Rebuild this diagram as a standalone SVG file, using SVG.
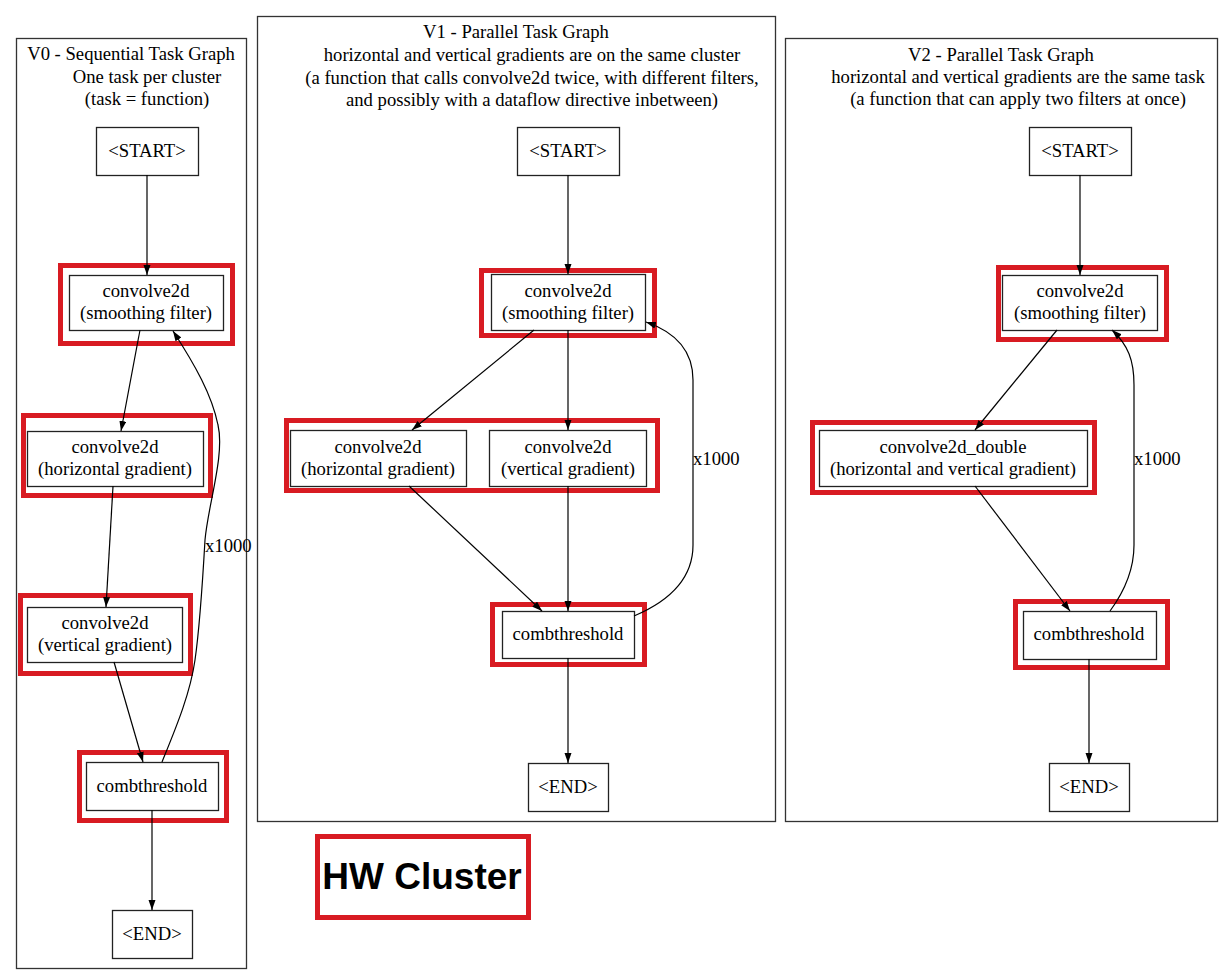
<svg xmlns="http://www.w3.org/2000/svg" width="1222" height="978" viewBox="0 0 1222 978">
<style>
text{font-family:"Liberation Serif","Times New Roman",serif;font-size:18.67px;fill:#000;text-anchor:middle}
.panel{fill:none;stroke:#333;stroke-width:1.3}
.node{fill:#fff;stroke:#222;stroke-width:1.3}
.hw{fill:none;stroke:#d81b22;stroke-width:5}
.edge{fill:none;stroke:#000;stroke-width:1.2;marker-end:url(#arr)}
.lbl{text-anchor:start}
.big{font-family:"Liberation Sans",Arial,sans-serif;font-weight:bold;font-size:37px}
</style>
<defs>
<marker id="arr" markerUnits="userSpaceOnUse" markerWidth="10" markerHeight="8" refX="10" refY="3.5" orient="auto">
<path d="M0,0 L10,3.5 L0,7 z" fill="#000"/>
</marker>
</defs>
<rect width="1222" height="978" fill="#fff"/>

<g id="panel-v0">
<rect class="panel" x="16.5" y="38.5" width="230" height="930"/>
<text x="131" y="60">V0 - Sequential Task Graph</text>
<text x="147" y="83">One task per cluster</text>
<text x="147" y="105">(task = function)</text>
</g>
<g id="panel-v1">
<rect class="panel" x="257.5" y="16.5" width="518" height="805"/>
<text x="516" y="38">V1 - Parallel Task Graph</text>
<text x="532" y="61">horizontal and vertical gradients are on the same cluster</text>
<text x="532" y="84">(a function that calls convolve2d twice, with different filters,</text>
<text x="532" y="106">and possibly with a dataflow directive inbetween)</text>
</g>
<g id="panel-v2">
<rect class="panel" x="785.5" y="38.5" width="432" height="783"/>
<text x="1001" y="61">V2 - Parallel Task Graph</text>
<text x="1018" y="83">horizontal and vertical gradients are the same task</text>
<text x="1018" y="105">(a function that can apply two filters at once)</text>
</g>

<g id="hw-clusters">
<rect class="hw" x="60.5" y="265.5" width="172" height="78"/>
<rect class="hw" x="23.5" y="415.5" width="187" height="80"/>
<rect class="hw" x="20.5" y="595.5" width="170" height="78"/>
<rect class="hw" x="79.5" y="752.5" width="147" height="68"/>
<rect class="hw" x="481.5" y="270.5" width="173" height="65"/>
<rect class="hw" x="286.5" y="420.5" width="371" height="70"/>
<rect class="hw" x="492.5" y="604.5" width="152" height="60"/>
<rect class="hw" x="998.5" y="267.5" width="168" height="72"/>
<rect class="hw" x="812.5" y="422.5" width="282" height="70"/>
<rect class="hw" x="1015.5" y="601.5" width="152" height="66"/>
</g>

<g id="v0-start"><rect class="node" x="96.5" y="127.5" width="102" height="48"/><text x="147" y="157">&lt;START&gt;</text></g>
<g id="v0-smooth"><rect class="node" x="69.5" y="275.5" width="154" height="55"/><text x="146" y="297">convolve2d</text><text x="146" y="319">(smoothing filter)</text></g>
<g id="v0-horiz"><rect class="node" x="27.5" y="431.5" width="176" height="55"/><text x="115" y="453">convolve2d</text><text x="115" y="475">(horizontal gradient)</text></g>
<g id="v0-vert"><rect class="node" x="27.5" y="607.5" width="155" height="55"/><text x="105" y="629">convolve2d</text><text x="105" y="651">(vertical gradient)</text></g>
<g id="v0-comb"><rect class="node" x="86.5" y="762.5" width="132" height="48"/><text x="152" y="792">combthreshold</text></g>
<g id="v0-end"><rect class="node" x="112.5" y="910.5" width="80" height="48"/><text x="152" y="940">&lt;END&gt;</text></g>

<g id="v1-start"><rect class="node" x="517.5" y="127.5" width="102" height="48"/><text x="568" y="157">&lt;START&gt;</text></g>
<g id="v1-smooth"><rect class="node" x="491.5" y="274.5" width="154" height="56"/><text x="568" y="297">convolve2d</text><text x="568" y="319">(smoothing filter)</text></g>
<g id="v1-horiz"><rect class="node" x="290.5" y="430.5" width="176" height="56"/><text x="378" y="453">convolve2d</text><text x="378" y="475">(horizontal gradient)</text></g>
<g id="v1-vert"><rect class="node" x="489.5" y="430.5" width="157" height="56"/><text x="568" y="453">convolve2d</text><text x="568" y="475">(vertical gradient)</text></g>
<g id="v1-comb"><rect class="node" x="502.5" y="611.5" width="132" height="47"/><text x="568" y="640">combthreshold</text></g>
<g id="v1-end"><rect class="node" x="528.5" y="763.5" width="80" height="48"/><text x="568" y="793">&lt;END&gt;</text></g>

<g id="v2-start"><rect class="node" x="1029.5" y="127.5" width="102" height="48"/><text x="1080" y="157">&lt;START&gt;</text></g>
<g id="v2-smooth"><rect class="node" x="1002.5" y="275.5" width="155" height="55"/><text x="1080" y="297">convolve2d</text><text x="1080" y="319">(smoothing filter)</text></g>
<g id="v2-double"><rect class="node" x="819.5" y="430.5" width="268" height="56"/><text x="953" y="453">convolve2d_double</text><text x="953" y="475">(horizontal and vertical gradient)</text></g>
<g id="v2-comb"><rect class="node" x="1023.5" y="611.5" width="133" height="48"/><text x="1089" y="640">combthreshold</text></g>
<g id="v2-end"><rect class="node" x="1049.5" y="763.5" width="80" height="48"/><text x="1089" y="793">&lt;END&gt;</text></g>

<g id="legend"><rect class="hw" x="317.5" y="836.5" width="211" height="81"/><text class="big" x="422" y="889">HW Cluster</text></g>

<g id="connectors">
<path class="edge" d="M147,175 L147,275"/>
<path class="edge" d="M140,330 L121,431"/>
<path class="edge" d="M113,486 L106,607"/>
<path class="edge" d="M114,662 L143,762"/>
<path class="edge" d="M152,810 L152,910"/>
<path class="edge" d="M162,762 C175,730 190,695 195,660 C200,625 203,575 205,540 C208,505 225,455 218,425 C212,395 195,365 173,331"/>
<text class="lbl" x="205" y="552">x1000</text>

<path class="edge" d="M568,175 L568,274"/>
<path class="edge" d="M534,330 L412,430"/>
<path class="edge" d="M568,330 L568,430"/>
<path class="edge" d="M409,486 L542,611"/>
<path class="edge" d="M568,486 L568,611"/>
<path class="edge" d="M568,658 L568,763"/>
<path class="edge" d="M634,616 C660,605 693,585 693,545 L693,380 C693,350 675,332 646,322"/>
<text class="lbl" x="693" y="465">x1000</text>

<path class="edge" d="M1080,175 L1080,275"/>
<path class="edge" d="M1057,330 L975,430"/>
<path class="edge" d="M975,486 L1070,611"/>
<path class="edge" d="M1089,659 L1089,763"/>
<path class="edge" d="M1110,611 C1124,592 1134,570 1134,545 L1134,385 C1134,360 1128,345 1112,330"/>
<text class="lbl" x="1134" y="465">x1000</text>
</g>
</svg>
